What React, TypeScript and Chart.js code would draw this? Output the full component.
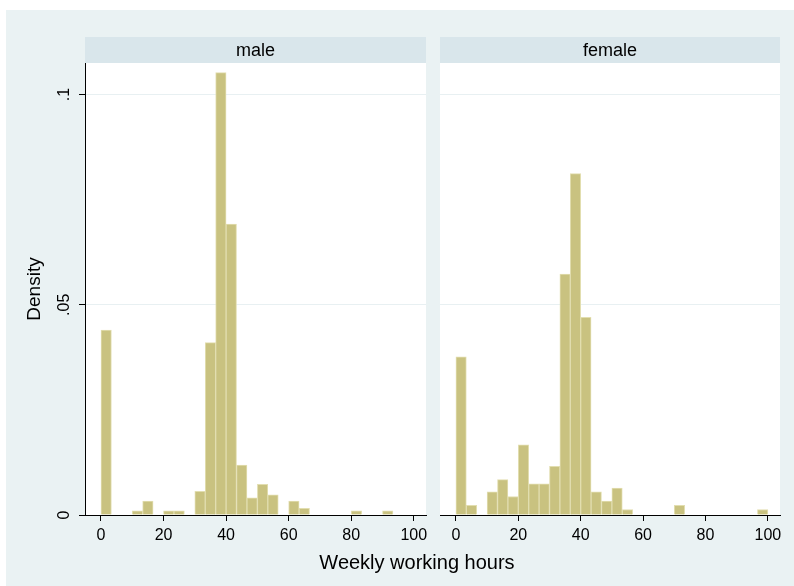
import React, { useEffect, useRef } from 'react';
import { Chart, registerables } from 'chart.js';

Chart.register(...registerables);

// ---- data ----
const binWidth = 10 / 3; // hours per bin, bins start at 0
const maleDensity = [
  0.044, 0, 0, 0.001, 0.0033, 0, 0.001, 0.001, 0, 0.0056,
  0.041, 0.1052, 0.0692, 0.0119, 0.0041, 0.0073, 0.0048, 0, 0.0033, 0.0016,
  0, 0, 0, 0, 0.001, 0, 0, 0.001, 0, 0,
];
const femaleDensity = [
  0.0376, 0.0023, 0, 0.0055, 0.0084, 0.0044, 0.0167, 0.0074, 0.0074, 0.0116,
  0.0573, 0.0812, 0.047, 0.0055, 0.0033, 0.0064, 0.0013, 0, 0, 0,
  0, 0.0023, 0, 0, 0, 0, 0, 0, 0, 0.0013,
];
const xTickValues = [0, 20, 40, 60, 80, 100];
const yTickValues = [0, 0.05, 0.1];
const yTickLabels = ['0', '.05', '.1'];
const panelTitles = ['male', 'female'];
const xTitle = 'Weekly working hours';
const yTitle = 'Density';

// ---- style ----
const FONT = "'Liberation Sans', Arial, Helvetica, sans-serif";
const BG = 'rgb(234,242,243)';
const STRIP = 'rgb(217,230,235)';
const GRID = 'rgb(232,240,242)';
const BAR = 'rgb(201,194,128)';
const BAR_EDGE = 'rgb(226,222,176)';
const AXIS = '#000';
const X_MIN = -5.1;
const X_MAX = 103.9;
const Y_MAX = 0.1075;

function toPoints(values: number[]) {
  return values.map((v, i) => ({ x: (i + 0.5) * binWidth, y: v }));
}

function decor(title: string) {
  return {
    id: 'decor',
    beforeDraw(chart: any) {
      const { ctx, chartArea: a } = chart;
      ctx.save();
      ctx.fillStyle = '#fff';
      ctx.fillRect(a.left, a.top, a.right - a.left, a.bottom - a.top);
      ctx.fillStyle = STRIP;
      ctx.fillRect(a.left, a.top - 26, a.right - a.left, 26);
      ctx.fillStyle = '#000';
      ctx.font = `18px ${FONT}`;
      ctx.textAlign = 'center';
      ctx.textBaseline = 'alphabetic';
      ctx.fillText(title, (a.left + a.right) / 2, a.top - 7);
      ctx.restore();
    },
  };
}

function makeConfig(values: number[], title: string, showY: boolean): any {
  return {
    type: 'bar',
    data: {
      datasets: [
        {
          data: toPoints(values),
          backgroundColor: BAR,
          borderColor: BAR_EDGE,
          borderWidth: 1,
          barPercentage: 1,
          categoryPercentage: 1,
          borderSkipped: 'start',
        },
      ],
    },
    options: {
      responsive: false,
      animation: false,
      layout: { padding: { top: 26, left: showY ? 0 : 7, right: 14, bottom: 0 } },
      plugins: {
        legend: { display: false },
        tooltip: { enabled: false },
        title: { display: false },
      },
      scales: {
        x: {
          type: 'linear',
          min: X_MIN,
          max: X_MAX,
          offset: false,
          afterBuildTicks: (s: any) => {
            s.ticks = xTickValues.map((v) => ({ value: v }));
          },
          afterFit: (s: any) => {
            s.height = 71;
          },
          grid: {
            display: true,
            offset: false,
            drawOnChartArea: false,
            drawTicks: true,
            tickLength: 6,
            color: AXIS,
          },
          border: { display: true, color: AXIS, width: 1 },
          ticks: {
            autoSkip: false,
            maxRotation: 0,
            padding: 5,
            color: '#000',
            font: { family: FONT, size: 16 },
            callback: (v: any) => String(v),
          },
        },
        y: {
          type: 'linear',
          min: 0,
          max: Y_MAX,
          afterBuildTicks: (s: any) => {
            s.ticks = yTickValues.map((v) => ({ value: v }));
          },
          afterFit: (s: any) => {
            s.width = showY ? 79 : 0;
          },
          grid: {
            color: (c: any) => (c.tick && c.tick.value === 0 ? 'rgba(0,0,0,0)' : GRID),
            tickColor: AXIS,
            drawTicks: showY,
            tickLength: 6,
            lineWidth: 1,
          },
          border: { display: showY, color: AXIS, width: 1 },
          ticks: {
            display: showY,
            minRotation: 90,
            maxRotation: 90,
            crossAlign: 'center',
            padding: 3,
            color: '#000',
            font: { family: FONT, size: 16 },
            callback: (v: any) => {
              const idx = yTickValues.findIndex((t) => Math.abs(t - v) < 1e-9);
              return idx >= 0 ? yTickLabels[idx] : '';
            },
          },
          title: {
            display: showY,
            text: yTitle,
            color: '#000',
            font: { family: FONT, size: 19 },
            padding: { top: 17, bottom: 0 },
          },
        },
      },
    },
    plugins: [decor(title)],
  };
}

export default function App() {
  const leftRef = useRef<HTMLCanvasElement>(null);
  const rightRef = useRef<HTMLCanvasElement>(null);

  useEffect(() => {
    const c1 = new Chart(leftRef.current as HTMLCanvasElement, makeConfig(maleDensity, panelTitles[0], true));
    const c2 = new Chart(rightRef.current as HTMLCanvasElement, makeConfig(femaleDensity, panelTitles[1], false));
    return () => {
      c1.destroy();
      c2.destroy();
    };
  }, []);

  return (
    <div style={{ position: 'absolute', left: 0, top: 0, width: 794, height: 586, background: '#fff', overflow: 'hidden' }}>
      <div style={{ position: 'absolute', left: 6, top: 10, width: 788, height: 576, background: BG }} />
      <canvas
        ref={leftRef}
        width={434}
        height={549}
        style={{ position: 'absolute', left: 6, top: 37, width: 434, height: 549 }}
      />
      <canvas
        ref={rightRef}
        width={361}
        height={549}
        style={{ position: 'absolute', left: 433, top: 37, width: 361, height: 549 }}
      />
      <div
        style={{
          position: 'absolute',
          left: 217,
          top: 552,
          width: 400,
          textAlign: 'center',
          fontFamily: FONT,
          fontSize: 20,
          lineHeight: '20px',
          color: '#000',
          whiteSpace: 'nowrap',
        }}
      >
        {xTitle}
      </div>
    </div>
  );
}
